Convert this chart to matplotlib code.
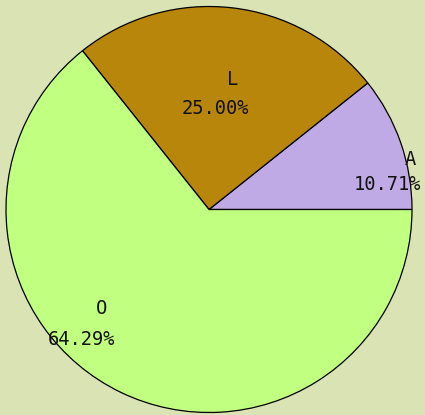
import matplotlib
matplotlib.use("Agg")
import matplotlib.pyplot as plt
import numpy as np

labels = ["A", "L", "O"]
values = [10.71, 25.00, 64.29]
colors = ["#c0aae6", "#b8860b", "#c0ff80"]
bg = "#d9e3b4"

# label positions (in pie-radius units) for name and percentage
name_pos = [(0.99, 0.246), (0.118, 0.64), (-0.53, -0.49)]
pct_pos = [(0.88, 0.123), (0.03, 0.50), (-0.63, -0.64)]

W, H = 425, 415
fig = plt.figure(figsize=(W/100, H/100), dpi=100, facecolor=bg)
cx, cy, r = 209, 209.5, 203
ax = fig.add_axes([(cx - r)/W, (H - cy - r)/H, 2*r/W, 2*r/H])
ax.set_facecolor(bg)
wedges, _ = ax.pie(values, colors=colors, startangle=0, counterclock=True,
                   wedgeprops=dict(edgecolor="black", linewidth=0.9), radius=1)
ax.set_xlim(-1, 1)
ax.set_ylim(-1, 1)
ax.set_aspect("auto")
ax.axis("off")

font = dict(family="DejaVu Sans Mono", fontsize=13.5, color="#111111",
            ha="center", va="center", fontweight="light")
for lab, v, npos, ppos in zip(labels, values, name_pos, pct_pos):
    ax.text(npos[0], npos[1], lab, **font)
    ax.text(ppos[0], ppos[1], f"{v:.2f}%", **font)

fig.savefig("out.png", dpi=100, facecolor=bg)
